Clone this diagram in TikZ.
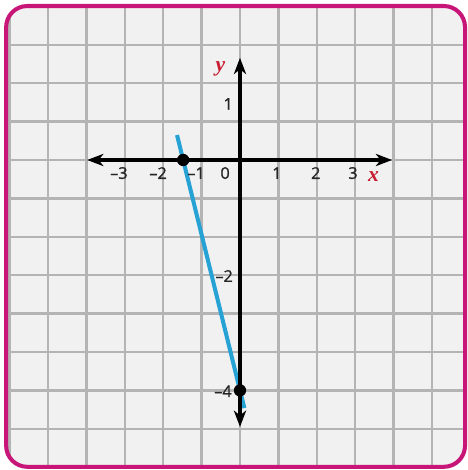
\documentclass[tikz,border=0pt]{standalone}
\usepackage{fontspec}
\setmainfont{Liberation Serif}
\newfontfamily\tickfont{Open Sans}[FakeBold=1.2]
\usetikzlibrary{arrows.meta}
\usepackage{xcolor}

\definecolor{framepink}{RGB}{200,22,120}
\definecolor{gridgray}{RGB}{180,180,180}
\definecolor{paper}{RGB}{241,241,241}
\definecolor{lineblue}{RGB}{38,162,212}
\definecolor{labelred}{RGB}{200,28,48}

\tikzset{
  ticklabel/.style={font=\tickfont\fontsize{12}{12}\selectfont, text=black!85, inner sep=0pt, anchor=east},
  axislabel/.style={font=\bfseries\itshape\fontsize{16}{16}\selectfont, text=labelred, inner sep=0pt},
  axisline/.style={line width=2.4pt, {Stealth[length=12pt,width=9pt,inset=3.5pt]}-{Stealth[length=12pt,width=9pt,inset=3.5pt]}}
}

\begin{document}
\begin{tikzpicture}
        % Keep the margins of the card
        \useasboundingbox (-6.25,-8.073) rectangle (5.9375,4.1667);

        % Define corners of the card
        \coordinate (c1) at (-6.09, 4.01);  % Top left
        \coordinate (c2) at (5.86, -7.99);  % Bottom right

        % Draw card and grid
        \fill[paper, rounded corners=0.55cm] (c1) rectangle (c2);
        \begin{scope}
          \clip[rounded corners=0.55cm] (c1) rectangle (c2);
          \draw[gridgray, line width=1.9pt] (-7,-9) grid (7,5);
        \end{scope}
        \draw[framepink, line width=3pt, rounded corners=0.55cm] (c1) rectangle (c2);

        % Define ends of the axes
        \coordinate (xl) at (-3.98, 0);   % Left tip
        \coordinate (xr) at (3.96, 0);    % Right tip
        \coordinate (yt) at (0, 2.66);    % Top tip
        \coordinate (yb) at (0, -6.95);   % Bottom tip

        % Define points of the line
        \coordinate (p1) at (-1.48, 0);   % x-intercept
        \coordinate (p2) at (0, -6);      % y-intercept
        \coordinate (l1) at (-1.64, 0.65); % Upper end
        \coordinate (l2) at (0.114, -6.46); % Lower end

        % Draw the line
        \draw[lineblue, line width=3pt] (l1) -- (l2);

        % Draw axes
        \draw[axisline] (xl) -- (xr);
        \draw[axisline] (yb) -- (yt);

        % Label axes
        \node[axislabel] (xlab) at (3.48, -0.43) {x};
        \node[axislabel] (ylab) at (-0.51, 2.38) {y};

        % Label ticks on the x-axis
        \node[ticklabel] (xm3) at (-2.92, -0.34) {–3};
        \node[ticklabel] (xm2) at (-1.90, -0.34) {–2};
        \node[ticklabel] (xm1) at (-0.91, -0.34) {–1};
        \node[ticklabel] (x0) at (-0.26, -0.34) {0};
        \node[ticklabel] (x1) at (1.09, -0.34) {1};
        \node[ticklabel] (x2) at (2.10, -0.34) {2};
        \node[ticklabel] (x3) at (3.07, -0.34) {3};

        % Label ticks on the y-axis
        \node[ticklabel] (y1) at (-0.18, 1.46) {1};
        \node[ticklabel] (ym2) at (-0.18, -3.02) {–2};
        \node[ticklabel] (ym4) at (-0.21, -6.02) {–4};

        % Draw dots at the intercepts
        \fill[black] (p1) circle (0.16);
        \fill[black] (p2) circle (0.16);
\end{tikzpicture}
\end{document}
